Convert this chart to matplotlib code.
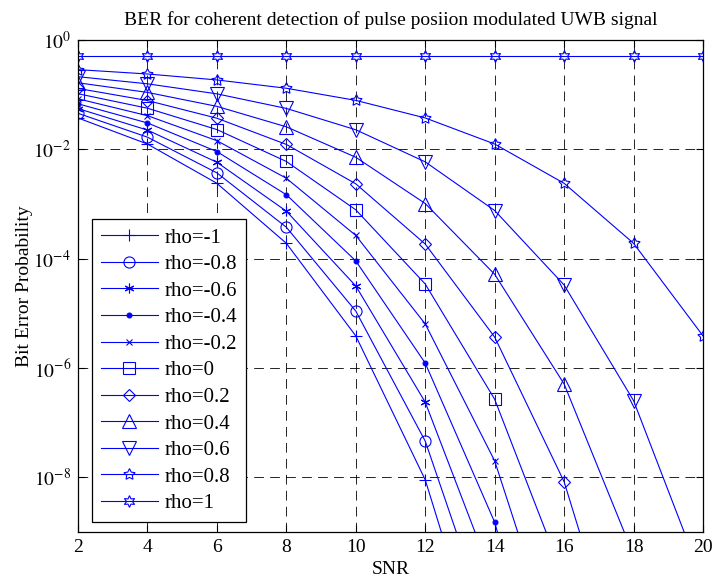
import numpy as np
import matplotlib
matplotlib.use("Agg")
import matplotlib.pyplot as plt
from matplotlib.ticker import FixedLocator, FuncFormatter, NullLocator

plt.rcParams['font.family'] = ['Liberation Serif', 'DejaVu Serif']
plt.rcParams['mathtext.fontset'] = 'stix'
plt.rcParams['lines.scale_dashes'] = False

# SNR [dB]
snr = [2, 4, 6, 8, 10, 12, 14, 16, 18, 20]

# bit error probability, one list per rho
ber_m10 = [3.75e-2, 1.25e-2, 2.39e-3, 1.91e-4, 3.87e-6, 9.0e-9, 6.9e-13, 2.3e-19, 1.3e-29, 1.0e-45]
ber_m08 = [4.56e-2, 1.67e-2, 3.71e-3, 3.76e-4, 1.10e-5, 4.6e-8, 8.8e-12, 1.3e-17, 7.0e-27, 2.4e-41]
ber_m06 = [5.57e-2, 2.25e-2, 5.80e-3, 7.40e-4, 3.17e-5, 2.37e-7, 1.15e-10, 7.3e-16, 4.6e-24, 5.7e-37]
ber_m04 = [6.81e-2, 3.04e-2, 9.11e-3, 1.48e-3, 9.10e-5, 1.23e-6, 1.51e-9, 4.2e-14, 2.7e-21, 1.3e-32]
ber_m02 = [8.40e-2, 4.13e-2, 1.44e-2, 2.96e-3, 2.66e-4, 6.40e-6, 2.0e-8, 2.4e-12, 1.7e-18, 3.2e-28]
ber_p00 = [1.04e-1, 5.65e-2, 2.30e-2, 6.00e-3, 7.83e-4, 3.44e-5, 2.68e-7, 1.4e-10, 1.0e-15, 7.6e-24]
ber_p02 = [1.30e-1, 7.81e-2, 3.71e-2, 1.23e-2, 2.34e-3, 1.85e-4, 3.68e-6, 8.3e-9, 6.1e-13, 1.9e-19]
ber_p04 = [1.65e-1, 1.10e-1, 6.11e-2, 2.58e-2, 7.16e-3, 1.02e-3, 5.18e-5, 5.1e-7, 3.8e-10, 4.8e-15]
ber_p06 = [2.13e-1, 1.58e-1, 1.035e-1, 5.60e-2, 2.28e-2, 5.90e-3, 7.60e-4, 3.3e-5, 2.53e-7, 1.27e-10]
ber_p08 = [2.87e-1, 2.39e-1, 1.86e-1, 1.31e-1, 7.86e-2, 3.75e-2, 1.25e-2, 2.39e-3, 1.91e-4, 3.87e-6]
ber_p10 = [0.5, 0.5, 0.5, 0.5, 0.5, 0.5, 0.5, 0.5, 0.5, 0.5]

labels = ['rho=-1', 'rho=-0.8', 'rho=-0.6', 'rho=-0.4', 'rho=-0.2', 'rho=0',
          'rho=0.2', 'rho=0.4', 'rho=0.6', 'rho=0.8', 'rho=1']
curves = [ber_m10, ber_m08, ber_m06, ber_m04, ber_m02, ber_p00,
          ber_p02, ber_p04, ber_p06, ber_p08, ber_p10]

# MATLAB-like marker set: + o * . x s d ^ v p h
markers = [
    dict(marker='+', ms=9),
    dict(marker='o', ms=8, mfc='none'),
    dict(marker=(6, 2, 0), ms=7),
    dict(marker='o', ms=3.5, mfc='blue'),
    dict(marker='x', ms=5),
    dict(marker='s', ms=8, mfc='none'),
    dict(marker='D', ms=6, mfc='none'),
    dict(marker='^', ms=9.5, mfc='none'),
    dict(marker='v', ms=9.5, mfc='none'),
    dict(marker=(5, 1, 0), ms=8.5, mfc='none'),
    dict(marker=(6, 1, 0), ms=8.5, mfc='none'),
]

fig = plt.figure(figsize=(7.12, 5.84), dpi=100)
ax = fig.add_axes([78 / 712, 52 / 584, 625 / 712, 492 / 584])

for y, lab, mk in zip(curves, labels, markers):
    ax.semilogy(snr, y, color='blue', lw=0.8, mec='blue', mew=0.8, label=lab, **mk)

ax.set_xlim(2, 20)
ax.set_ylim(1e-9, 1)
ax.set_xticks(snr)
ax.yaxis.set_major_locator(FixedLocator([1e0, 1e-2, 1e-4, 1e-6, 1e-8]))
ax.yaxis.set_minor_locator(NullLocator())
ax.yaxis.set_major_formatter(FuncFormatter(lambda v, p: r'$10^{%d}$' % round(np.log10(v))))

ax.grid(True, which='major', color='black', lw=0.6, linestyle=(0, (7, 4.5)))
ax.tick_params(direction='in', length=5, width=0.8, top=True, right=True,
               labelsize=14, pad=5)
for s in ax.spines.values():
    s.set_linewidth(0.9)

ax.set_title('BER for coherent detection of pulse posiion modulated UWB signal',
             fontsize=14, pad=11)
ax.set_xlabel('SNR', fontsize=14, labelpad=4)
ax.set_ylabel('Bit Error Probability', fontsize=14, labelpad=0)

leg = ax.legend(loc='lower left', bbox_to_anchor=(0.0224, 0.0203), borderaxespad=0,
                fontsize=15, fancybox=False, framealpha=1, edgecolor='black',
                handlelength=2.75, handletextpad=0.3, labelspacing=0.335,
                borderpad=0.42)
leg.get_frame().set_linewidth(0.9)

fig.savefig('out.png', dpi=100)
